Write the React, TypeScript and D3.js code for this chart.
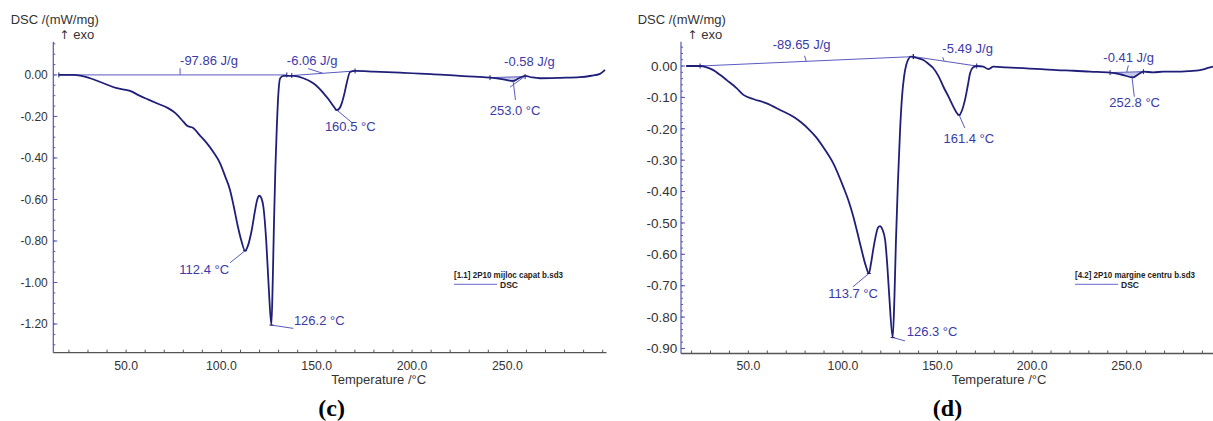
import React from "react";
import * as d3 from "d3";

// ---------- Data ----------
const LEFT_T = [14.7, 22.3, 31.1, 38.1, 45.1, 52.1, 57.0, 62.0, 67.0, 72.0, 76.0, 80.0, 82.0, 85.0, 89.0, 92.0, 96.0, 99.3, 102.0, 104.5, 106.5, 108.5, 110.5, 112.4, 114.0, 115.9, 117.5, 118.8, 119.9, 121.0, 122.0, 123.5, 124.8, 126.2, 126.9, 127.6, 128.3, 129.0, 129.8, 130.8, 132.5, 137.7, 143.0, 148.2, 151.0, 153.5, 156.0, 158.7, 160.5, 162.0, 163.1, 164.5, 165.7, 167.5, 170.1, 180.0, 193.7, 210.0, 225.0, 235.0, 241.0, 247.0, 253.0, 256.0, 259.3, 263.0, 267.0, 278.0, 288.0, 294.0, 298.6, 301.2];
const LEFT_V = [0, 0, -0.016, -0.04, -0.064, -0.077, -0.1, -0.12, -0.14, -0.16, -0.185, -0.225, -0.245, -0.255, -0.295, -0.325, -0.375, -0.426, -0.49, -0.554, -0.635, -0.725, -0.8, -0.847, -0.82, -0.747, -0.66, -0.6, -0.582, -0.595, -0.635, -0.8, -1.02, -1.205, -1.0, -0.7, -0.45, -0.265, -0.1, -0.016, -0.005, -0.005, -0.016, -0.04, -0.062, -0.088, -0.115, -0.15, -0.169, -0.16, -0.137, -0.09, -0.04, 0.014, 0.019, 0.016, 0.011, 0.004, -0.005, -0.009, -0.013, -0.02, -0.029, -0.016, -0.005, -0.012, -0.016, -0.014, -0.011, -0.004, 0.005, 0.024];

const RIGHT_T = [17.1, 24.5, 28.0, 31.5, 35.0, 38.6, 43.9, 47.4, 52.6, 59.7, 66.8, 73.8, 78.0, 81.7, 86.0, 90.0, 94.9, 100.2, 103.0, 105.5, 108.0, 109.9, 112.0, 113.7, 114.8, 116.0, 117.2, 118.5, 119.6, 120.8, 122.3, 123.5, 124.5, 126.3, 127.2, 128.0, 129.0, 130.2, 131.2, 132.3, 133.5, 134.6, 135.8, 137.2, 140.0, 142.5, 145.0, 147.8, 150.5, 153.1, 156.0, 158.4, 160.0, 161.4, 163.0, 164.5, 166.0, 167.2, 168.5, 170.7, 174.2, 176.8, 179.5, 186.0, 195.3, 205.0, 213.0, 222.0, 230.6, 241.2, 247.0, 253.2, 256.0, 258.8, 264.0, 269.3, 276.0, 283.5, 288.0, 290.5, 293.0, 295.6];
const RIGHT_V = [0, 0, -0.004, -0.013, -0.028, -0.045, -0.071, -0.092, -0.105, -0.119, -0.14, -0.162, -0.18, -0.2, -0.228, -0.262, -0.31, -0.385, -0.43, -0.48, -0.54, -0.587, -0.635, -0.661, -0.63, -0.585, -0.545, -0.515, -0.51, -0.52, -0.555, -0.64, -0.735, -0.865, -0.74, -0.56, -0.38, -0.204, -0.1, -0.034, 0.005, 0.022, 0.03, 0.029, 0.024, 0.019, 0.008, -0.007, -0.032, -0.066, -0.1, -0.13, -0.148, -0.156, -0.14, -0.108, -0.062, -0.023, -0.006, 0, -0.002, -0.01, -0.002, -0.004, -0.007, -0.01, -0.013, -0.015, -0.018, -0.021, -0.027, -0.036, -0.027, -0.018, -0.02, -0.018, -0.018, -0.016, -0.014, -0.011, -0.006, -0.002];

const LEFT_Y_TICKS = [0, -0.2, -0.4, -0.6, -0.8, -1.0, -1.2];
const RIGHT_Y_TICKS = [0, -0.1, -0.2, -0.3, -0.4, -0.5, -0.6, -0.7, -0.8, -0.9];
const X_TICKS = [50, 100, 150, 200, 250];

// peaks: temperature, value, label
const LEFT_PEAKS = [
  { t: 112.4, v: -0.847, label: "112.4 °C" },
  { t: 126.2, v: -1.205, label: "126.2 °C" },
  { t: 160.5, v: -0.169, label: "160.5 °C" },
  { t: 253.0, v: -0.029, label: "253.0 °C" },
];
const RIGHT_PEAKS = [
  { t: 113.7, v: -0.661, label: "113.7 °C" },
  { t: 126.3, v: -0.865, label: "126.3 °C" },
  { t: 161.4, v: -0.156, label: "161.4 °C" },
  { t: 252.8, v: -0.036, label: "252.8 °C" },
];
// integration baselines and enthalpy labels
const LEFT_BASELINES = [
  { t0: 14.7, v0: 0, t1: 134.3, v1: 0, label: "-97.86 J/g" },
  { t0: 136.9, v0: -0.003, t1: 170.1, v1: 0.019, label: "-6.06 J/g" },
  { t0: 240.9, v0: -0.013, t1: 259.3, v1: -0.008, label: "-0.58 J/g" },
];
const RIGHT_BASELINES = [
  { t0: 24.5, v0: 0, t1: 137.2, v1: 0.03, label: "-89.65 J/g" },
  { t0: 137.2, v0: 0.03, t1: 170.7, v1: 0, label: "-5.49 J/g" },
  { t0: 241.2, v0: -0.021, t1: 258.8, v1: -0.018, label: "-0.41 J/g" },
];

const CURVE = "#1f1f7a";
const ANN = "#3a3aa8";
const LINE_LIGHT = "#5a5ac0";
const TICK_TXT = "#333";
const FONT = "'Liberation Sans', Arial, sans-serif";

type Peak = { t: number; v: number; label: string };
type BL = { t0: number; v0: number; t1: number; v1: number; label: string };

type PanelProps = {
  T: number[];
  V: number[];
  xDomain: [number, number];
  xRange: [number, number];
  yDomain: [number, number];
  yRange: [number, number];
  yTicks: number[];
  yMinorStep: number;
  yLabelSize: number;
  yLabelGap: number;
  peaks: Peak[];
  peakOffsets: { lx: number; ly: number; tx: number; ty: number; anchor: string }[];
  baselines: BL[];
  blLabel: { tx: number; ty: number; lt: number; l1: [number, number]; l2: [number, number] }[];
  legend: string;
  legendX: number;
  legendW: number;
  titleX: number;
  exoX: number;
  letter: string;
  letterX: number;
  fillIdx: number;
};

function Panel(p: PanelProps) {
  const x = d3.scaleLinear().domain(p.xDomain).range(p.xRange);
  const y = d3.scaleLinear().domain(p.yDomain).range(p.yRange);
  const pts = p.T.map((t, i) => [t, p.V[i]] as [number, number]);
  const line = d3
    .line<[number, number]>()
    .x((d) => x(d[0]))
    .y((d) => y(d[1]))
    .curve(d3.curveMonotoneX);
  const interp = (t: number) => {
    const i = d3.bisector((d: [number, number]) => d[0]).left(pts, t);
    if (i <= 0) return pts[0][1];
    if (i >= pts.length) return pts[pts.length - 1][1];
    const a = pts[i - 1], b = pts[i];
    return a[1] + ((t - a[0]) / (b[0] - a[0])) * (b[1] - a[1]);
  };
  const xAxisY = p.yRange[1];
  const minorX = d3.range(20, p.xDomain[1], 10);
  const minorY: number[] = [];
  for (let v = 0; v >= p.yDomain[1]; v -= p.yMinorStep) minorY.push(+v.toFixed(4));
  for (let v = p.yMinorStep; v <= p.yDomain[0]; v += p.yMinorStep) minorY.push(+v.toFixed(4));

  const fb = p.baselines[p.fillIdx];
  const fillT = [fb.t0, ...p.T.filter((t) => t > fb.t0 && t < fb.t1), fb.t1];
  const blAt = (b: BL, t: number) => b.v0 + ((t - b.t0) / (b.t1 - b.t0)) * (b.v1 - b.v0);
  const area = d3
    .area<number>()
    .x((t) => x(t))
    .y0((t) => y(blAt(fb, t)))
    .y1((t) => y(interp(t)));

  return (
    <g>
      {/* y axis */}
      <line x1={p.xRange[0]} x2={p.xRange[0]} y1={p.yRange[0]} y2={p.yRange[1]} stroke="#5555b5" strokeWidth={1.2} />
      {minorY.map((v, i) => (
        <line key={"my" + i} x1={p.xRange[0]} x2={p.xRange[0] + 2} y1={y(v)} y2={y(v)} stroke="#5555b5" strokeWidth={1} />
      ))}
      {p.yTicks.map((v, i) => (
        <g key={"yt" + i}>
          <line x1={p.xRange[0]} x2={p.xRange[0] + 4} y1={y(v)} y2={y(v)} stroke="#5555b5" />
          <text x={p.xRange[0] - p.yLabelGap} y={y(v)} dy="0.35em" textAnchor="end" fontSize={p.yLabelSize} fill={TICK_TXT} fontFamily={FONT}>
            {v.toFixed(2)}
          </text>
        </g>
      ))}
      {/* x axis */}
      <line x1={p.xRange[0]} x2={p.xRange[1]} y1={xAxisY} y2={xAxisY} stroke="#555" strokeWidth={1.3} />
      {minorX.map((t, i) => (
        <line key={"mx" + i} x1={x(t)} x2={x(t)} y1={xAxisY} y2={xAxisY - 3} stroke="#555" />
      ))}
      {X_TICKS.map((t, i) => (
        <text key={"xt" + i} x={x(t)} y={370} textAnchor="middle" fontSize={12.3} fill={TICK_TXT} fontFamily={FONT}>
          {t.toFixed(1)}
        </text>
      ))}
      <text x={x(182.5)} y={383.5} textAnchor="middle" fontSize={13} fill={TICK_TXT} fontFamily={FONT}>
        Temperature /°C
      </text>
      <text x={p.titleX} y={24} fontSize={13} fill={TICK_TXT} fontFamily={FONT}>
        DSC /(mW/mg)
      </text>
      <text x={p.exoX} y={38.5} fontSize={13} fill={TICK_TXT} fontFamily={FONT}>
        <tspan fontFamily="'DejaVu Sans', sans-serif" fontSize={12}>↑</tspan>
        <tspan dx={4}>exo</tspan>
      </text>

      {/* small peak fill */}
      <path d={area(fillT) || ""} fill="#c9c9ea" stroke="none" />

      {/* baselines */}
      {p.baselines.map((b, i) => (
        <line key={"bl" + i} x1={x(b.t0)} x2={x(b.t1)} y1={y(b.v0)} y2={y(b.v1)} stroke={LINE_LIGHT} strokeWidth={1} />
      ))}
      {p.baselines.map((b, i) => (
        <g key={"blm" + i}>
          <line x1={x(b.t0)} x2={x(b.t0)} y1={y(b.v0) - 2.5} y2={y(b.v0) + 2.5} stroke={CURVE} strokeWidth={1} />
          <line x1={x(b.t1)} x2={x(b.t1)} y1={y(b.v1) - 2.5} y2={y(b.v1) + 2.5} stroke={CURVE} strokeWidth={1} />
        </g>
      ))}
      {p.baselines.map((b, i) => {
        const o = p.blLabel[i];
        const bx = x(o.lt);
        const by = y(blAt(b, o.lt));
        return (
          <g key={"bll" + i}>
            <line x1={bx + o.l1[0]} y1={by + o.l1[1]} x2={bx + o.l2[0]} y2={by + o.l2[1]} stroke={LINE_LIGHT} strokeWidth={1} />
            <text x={bx + o.tx} y={by + o.ty} fontSize={13} fill={ANN} fontFamily={FONT}>
              {b.label}
            </text>
          </g>
        );
      })}

      {/* curve */}
      <path d={line(pts) || ""} fill="none" stroke={CURVE} strokeWidth={1.8} strokeLinejoin="round" />

      {/* peaks */}
      {p.peaks.map((pk, i) => {
        const o = p.peakOffsets[i];
        const px = x(pk.t), py = y(pk.v);
        return (
          <g key={"pk" + i}>
            <line x1={px} y1={py} x2={px + o.lx} y2={py + o.ly} stroke={LINE_LIGHT} strokeWidth={1} />
            <line x1={px - 2} x2={px + 2} y1={py} y2={py} stroke={CURVE} strokeWidth={1} />
            <text x={px + o.tx} y={py + o.ty} textAnchor={o.anchor as any} fontSize={13} fill={ANN} fontFamily={FONT}>
              {pk.label}
            </text>
          </g>
        );
      })}

      {/* legend */}
      <text x={p.legendX} y={277.5} fontSize={8.5} fontWeight="bold" fill="#222" fontFamily="'Liberation Sans Narrow', 'Liberation Sans', Arial, sans-serif" textLength={p.legendW} lengthAdjust="spacingAndGlyphs">
        {p.legend}
      </text>
      <line x1={p.legendX} x2={p.legendX + 43} y1={284.3} y2={284.3} stroke="#6a6ad0" strokeWidth={1} />
      <text x={p.legendX + 46} y={287.5} fontSize={8.5} fontWeight="bold" fill="#222" fontFamily="'Liberation Sans Narrow', 'Liberation Sans', Arial, sans-serif" textLength={18} lengthAdjust="spacingAndGlyphs">
        DSC
      </text>

      <text x={p.letterX} y={416} textAnchor="middle" fontSize={24} fontWeight="bold" fill="#000" fontFamily="'Liberation Serif', 'Times New Roman', serif">
        {p.letter}
      </text>
    </g>
  );
}

export default function App() {
  return (
    <svg width={1213} height={421} style={{ position: "absolute", left: 0, top: 0, background: "#fff" }}>
      <rect width={1213} height={421} fill="#fff" />
      <Panel
        T={LEFT_T}
        V={LEFT_V}
        xDomain={[11.8, 302]}
        xRange={[53.3, 606.5]}
        yDomain={[0.16, -1.338]}
        yRange={[41.7, 352.7]}
        yTicks={LEFT_Y_TICKS}
        yMinorStep={0.05}
        yLabelSize={12}
        yLabelGap={5.5}
        peaks={LEFT_PEAKS}
        peakOffsets={[
          { lx: -15, ly: 12, tx: -16, ty: 23.5, anchor: "end" },
          { lx: 22, ly: 3.3, tx: 22.5, ty: -0.5, anchor: "start" },
          { lx: 16, ly: 13.3, tx: 13.5, ty: 21, anchor: "middle" },
          { lx: 2.4, ly: 19, tx: 2, ty: 34, anchor: "middle" },
        ]}
        baselines={LEFT_BASELINES}
        blLabel={[
          { lt: 78.3, l1: [0, 0], l2: [0, -6.7], tx: 0, ty: -10 },
          { lt: 153.2, l1: [0, 0], l2: [-14.7, -4.7], tx: -36, ty: -8 },
          { lt: 259.3, l1: [0, -0.5], l2: [-15, 10.5], tx: -21, ty: -11 },
        ]}
        legend="[1.1] 2P10 mijloc capat b.sd3"
        legendX={454}
        legendW={109}
        titleX={10.7}
        exoX={59.3}
        letter="(c)"
        letterX={331.6}
        fillIdx={2}
      />
      <Panel
        T={RIGHT_T}
        V={RIGHT_V}
        xDomain={[14.4, 295.6]}
        xRange={[681, 1213]}
        yDomain={[0.0775, -0.916]}
        yRange={[41.7, 353.5]}
        yTicks={RIGHT_Y_TICKS}
        yMinorStep={0.02}
        yLabelSize={13.5}
        yLabelGap={3.7}
        peaks={RIGHT_PEAKS}
        peakOffsets={[
          { lx: -16, ly: 13.4, tx: -15.8, ty: 25, anchor: "middle" },
          { lx: 12.3, ly: 3.4, tx: 14, ty: -1.3, anchor: "start" },
          { lx: 5.7, ly: 13, tx: 9.7, ty: 28.3, anchor: "middle" },
          { lx: 2.3, ly: 19.4, tx: 2.6, ty: 29.4, anchor: "middle" },
        ]}
        baselines={RIGHT_BASELINES}
        blLabel={[
          { lt: 80.6, l1: [0, 0], l2: [-1.7, -5.6], tx: -33.5, ty: -12.3 },
          { lt: 153.5, l1: [0, 0], l2: [-1.5, -4], tx: -1.8, ty: -8 },
          { lt: 250, l1: [0, 0], l2: [1.6, -6.7], tx: -23.4, ty: -10.3 },
        ]}
        legend="[4.2] 2P10 margine centru b.sd3"
        legendX={1075}
        legendW={120}
        titleX={637.7}
        exoX={687.3}
        letter="(d)"
        letterX={947.5}
        fillIdx={2}
      />
    </svg>
  );
}
